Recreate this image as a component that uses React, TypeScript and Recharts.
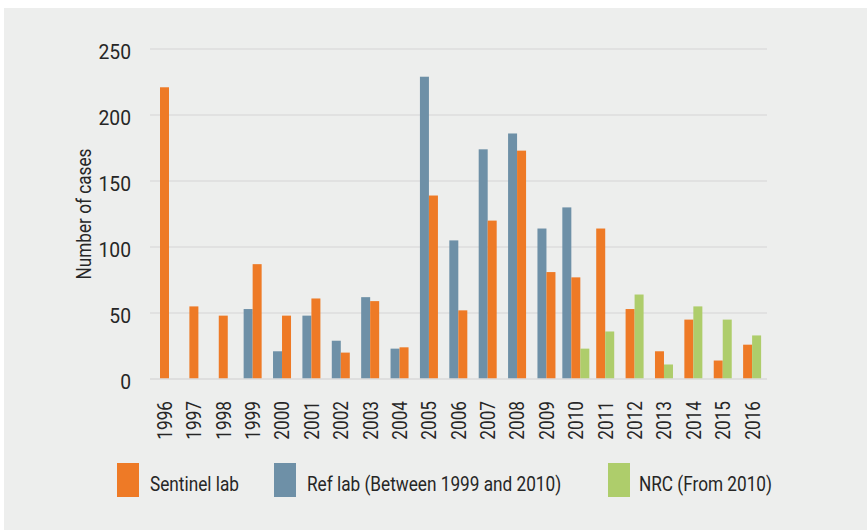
import React from 'react'
import { BarChart, Bar, XAxis, YAxis, CartesianGrid } from 'recharts'

const years = ['1996', '1997', '1998', '1999', '2000', '2001', '2002', '2003', '2004', '2005', '2006', '2007', '2008', '2009', '2010', '2011', '2012', '2013', '2014', '2015', '2016']
const sentinel = [221, 55, 48, 87, 48, 61, 20, 59, 24, 139, 52, 120, 173, 81, 77, 114, 53, 21, 45, 14, 26]
const refLab = [null, null, null, 53, 21, 48, 29, 62, 23, 229, 105, 174, 186, 114, 130, null, null, null, null, null, null]
const nrc = [null, null, null, null, null, null, null, null, null, null, null, null, null, null, 23, 36, 64, 11, 55, 45, 33]
const yTicks = [0, 50, 100, 150, 200, 250]

const ORANGE = '#ee7a26'
const BLUE = '#6e90a7'
const GREEN = '#aecd6b'
const BG = '#edeeed'
const TEXT = '#262626'
const FONT = 'Roboto, "Noto Sans", sans-serif'
const SQUEEZE = 0.86 // the original font is a condensed face

const data = years.map((y, i) => ({ year: y, ref: refLab[i], sentinel: sentinel[i], nrc: nrc[i] }))
const ORDER = ['ref', 'sentinel', 'nrc']

// bars that exist in a year are packed together and centred on the tick
function packed(key: string) {
  return (props: any) => {
    const { x, y, width, height, payload, fill } = props
    if (payload[key] == null) return <g />
    const present = ORDER.filter(k => payload[k] != null)
    const center = x - ORDER.indexOf(key) * width + (ORDER.length * width) / 2
    const nx = center - (present.length * width) / 2 + present.indexOf(key) * width
    return <rect x={nx} y={y} width={width} height={height} fill={fill} />
  }
}

function YearTick({ x, y, payload }: any) {
  return (
    <text
      transform={`translate(${x},${y + 14}) rotate(-90) scale(${SQUEEZE},1)`}
      textAnchor="end"
      dy="0.36em"
      fill={TEXT}
      fontSize={20}
      fontFamily={FONT}
    >
      {payload.value}
    </text>
  )
}

function CaseTick({ x, y, payload }: any) {
  return (
    <text
      transform={`translate(${x - 11},${y + 2}) scale(0.92,1)`}
      textAnchor="end"
      dy="0.36em"
      fill={TEXT}
      fontSize={21}
      fontFamily={FONT}
    >
      {payload.value}
    </text>
  )
}

function AxisTitle({ viewBox }: any) {
  const cx = viewBox.x - 6
  const cy = viewBox.y + viewBox.height / 2
  return (
    <text
      transform={`translate(${cx},${cy}) rotate(-90) scale(${SQUEEZE},1)`}
      textAnchor="middle"
      dy="0.36em"
      fill={TEXT}
      fontSize={20}
      fontFamily={FONT}
    >
      Number of cases
    </text>
  )
}

const legendItems = [
  { label: 'Sentinel lab', color: ORANGE, left: 113, gap: 11 },
  { label: 'Ref lab (Between 1999 and 2010)', color: BLUE, left: 270, gap: 11 },
  { label: 'NRC (From 2010)', color: GREEN, left: 604, gap: 9 },
]

export default function App() {
  return (
    <div style={{ position: 'absolute', left: 4, top: 8, width: 863, height: 522, background: BG, fontFamily: FONT }}>
      <BarChart
        width={863}
        height={522}
        data={data}
        margin={{ top: 41, right: 100, left: 86, bottom: 101 }}
        barSize={9}
        barGap={0}
      >
        <CartesianGrid stroke="#dcdddc" strokeWidth={1.5} vertical={false} />
        <XAxis
          dataKey="year"
          axisLine={{ stroke: '#dcdddc', strokeWidth: 1.5 }}
          tickLine={false}
          interval={0}
          height={50}
          tick={<YearTick />}
        />
        <YAxis
          domain={[0, 250]}
          ticks={yTicks}
          width={60}
          axisLine={false}
          tickLine={false}
          tick={<CaseTick />}
          label={<AxisTitle />}
        />
        <Bar dataKey="ref" fill={BLUE} shape={packed('ref')} isAnimationActive={false} />
        <Bar dataKey="sentinel" fill={ORANGE} shape={packed('sentinel')} isAnimationActive={false} />
        <Bar dataKey="nrc" fill={GREEN} shape={packed('nrc')} isAnimationActive={false} />
      </BarChart>

      {/* legend */}
      {legendItems.map(it => (
        <div key={it.label} style={{ position: 'absolute', left: it.left, top: 455, display: 'flex', alignItems: 'center', whiteSpace: 'nowrap' }}>
          <div style={{ width: 22, height: 34, background: it.color }} />
          <span
            style={{
              marginLeft: it.gap,
              fontSize: 20,
              color: TEXT,
              paddingTop: 8,
              display: 'inline-block',
              transform: `scaleX(${SQUEEZE})`,
              transformOrigin: 'left center',
            }}
          >
            {it.label}
          </span>
        </div>
      ))}
    </div>
  )
}
